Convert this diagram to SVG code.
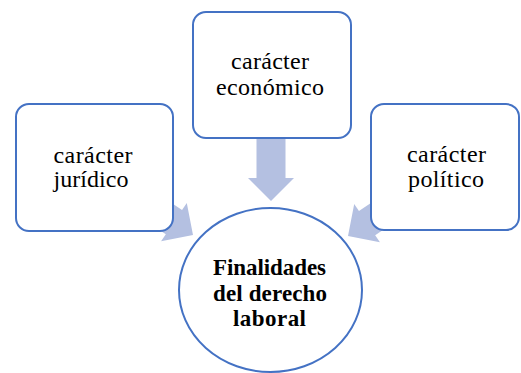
<svg xmlns="http://www.w3.org/2000/svg" width="521" height="373" viewBox="0 0 521 373">
<defs>
<style>
.box{fill:#ffffff;stroke:#4472C4;stroke-width:2}
.arrow{fill:#B4C0E1;stroke:none}
.t{font-family:'Liberation Serif','Times New Roman',serif;font-size:24px;fill:#000000;text-anchor:middle}
.b{font-weight:bold;font-size:23px}
</style>
<polygon id="arr" points="-64,-14.5 -23,-14.5 -23,-23 0,0 -23,23 -23,14.5 -64,14.5"/>
</defs>
<rect width="521" height="373" fill="#ffffff"/>
<g id="connectors">
<use href="#arr" class="arrow" transform="translate(271,201) rotate(90)"/>
<use href="#arr" class="arrow" transform="translate(193,235) rotate(34)"/>
<use href="#arr" class="arrow" transform="translate(348,236) rotate(146)"/>
</g>
<g id="node-economico">
<rect class="box" x="193" y="12" width="158" height="126" rx="13"/>
<text class="t" x="270" y="69" textLength="78" lengthAdjust="spacing">carácter</text>
<text class="t" x="270" y="95" textLength="108" lengthAdjust="spacing">económico</text>
</g>
<g id="node-juridico">
<rect class="box" x="16" y="104" width="157" height="127" rx="13"/>
<text class="t" x="93" y="163" textLength="79" lengthAdjust="spacing">carácter</text>
<text class="t" x="91" y="187" textLength="75" lengthAdjust="spacing">jurídico</text>
</g>
<g id="node-politico">
<rect class="box" x="371" y="104" width="148" height="126" rx="13"/>
<text class="t" x="446.5" y="162" textLength="79" lengthAdjust="spacing">carácter</text>
<text class="t" x="446" y="187" textLength="76" lengthAdjust="spacing">político</text>
</g>
<g id="node-finalidades">
<ellipse class="box" cx="270.5" cy="290" rx="91.5" ry="82"/>
<text class="t b" x="269.5" y="275" textLength="113" lengthAdjust="spacing">Finalidades</text>
<text class="t b" x="270" y="301" textLength="114" lengthAdjust="spacing">del derecho</text>
<text class="t b" x="269.5" y="326" textLength="73" lengthAdjust="spacing">laboral</text>
</g>
</svg>
